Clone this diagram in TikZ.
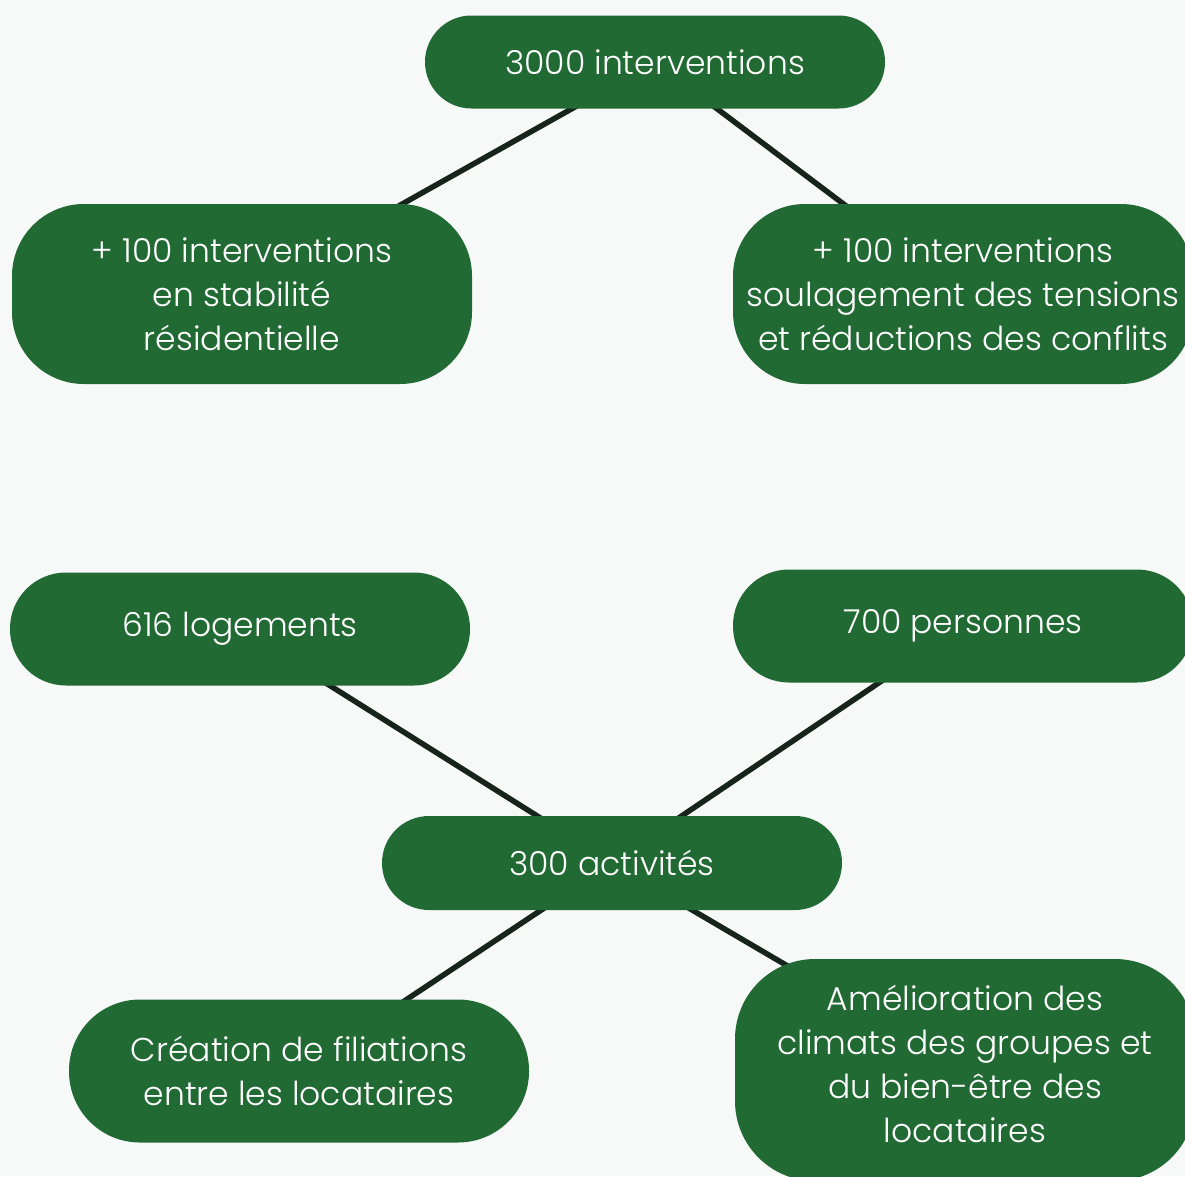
\documentclass[tikz,border=0pt]{standalone}
\usepackage{fontspec}
\setmainfont{Poppins}[UprightFont=* Light]
\usetikzlibrary{backgrounds}
\definecolor{boxgreen}{HTML}{226A34}
\definecolor{linedark}{HTML}{16241C}
\definecolor{pagebg}{HTML}{F7F9F8}
\tikzset{
  gbox/.style={fill=boxgreen, text=white, align=center, inner sep=0pt,
    minimum width=460pt, font=\fontsize{33}{44}\selectfont},
  link/.style={draw=linedark, line width=5.5pt}
}
\begin{document}
\begin{tikzpicture}[x=1pt,y=-1pt]
\useasboundingbox (0,0) rectangle (1185,1176);
\clip (0,0) rectangle (1185,1176);
% boxes
\node[gbox, minimum height=93pt, rounded corners=46.5pt] (top) at (655,62) {3000 interventions};
\node[gbox, minimum height=180pt, rounded corners=72pt] (stab) at (242,294) {+ 100 interventions\\en stabilité\\résidentielle};
\node[gbox, minimum height=180pt, rounded corners=72pt] (soul) at (963,294) {+ 100 interventions\\soulagement des tensions\\et réductions des conflits};
\node[gbox, minimum height=113pt, rounded corners=56pt] (loge) at (240,629) {616 logements};
\node[gbox, minimum height=113pt, rounded corners=56pt] (pers) at (963,626) {700 personnes};
\node[gbox, minimum height=94pt, rounded corners=47pt] (act) at (612,863) {300 activités};
\node[gbox, minimum height=143pt, rounded corners=71pt] (fil) at (299,1071) {Création de filiations\\entre les locataires};
\node[gbox, minimum height=222pt, rounded corners=80pt, text depth=12pt] (amel) at (965,1070) {Amélioration des\\climats des groupes et\\du bien-être des\\locataires};
% background and connectors
\begin{scope}[on background layer]
  \fill[pagebg] (0,0) rectangle (1185,1176);
  \draw[link] (top.center) -- (stab.center);
  \draw[link] (top.center) -- (soul.center);
  \draw[link] (loge.center) -- (act.center);
  \draw[link] (pers.center) -- (act.center);
  \draw[link] (act.center) -- (fil.center);
  \draw[link] (act.center) -- (amel.center);
\end{scope}
\end{tikzpicture}
\end{document}
